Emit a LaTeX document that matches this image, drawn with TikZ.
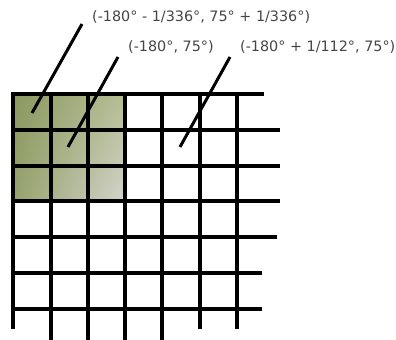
\documentclass[tikz,border=0pt]{standalone}
\usepackage{fontspec}
\setmainfont{DejaVu Sans}
\usetikzlibrary{shadings}
\definecolor{olivedark}{RGB}{138,152,96}
\definecolor{olivemid}{RGB}{150,162,108}
\definecolor{olivelight}{RGB}{182,190,148}
\definecolor{greylight}{RGB}{212,212,204}
\definecolor{labelgrey}{RGB}{70,70,70}
\begin{document}
\begin{tikzpicture}[x=1bp,y=-1bp,
  gridline/.style={line width=4bp,line cap=rect},
  leader/.style={line width=3bp},
  lbl/.style={anchor=west,inner sep=0pt,font=\fontsize{14.4}{16}\selectfont,text=labelgrey}]
\useasboundingbox[fill=white] (0,0) rectangle (396,340);
% shaded 3x3 block
\shade[upper left=olivedark,lower left=olivemid,upper right=olivelight,lower right=greylight]
  (13,94) rectangle (125,201);
% horizontal lines
\foreach \y/\xe in {94/262,130/278,166/278,201/278,237/275,273/260,309/260}
  \draw[gridline] (13,\y) -- (\xe,\y);
% vertical lines
\foreach \x/\ye in {13/327,51/340,88/340,125/340,162/340,200/327,237/327}
  \draw[gridline] (\x,94) -- (\x,\ye);
% labels
\node[lbl] (l1) at (92,17) {(-180° - 1/336°, 75° + 1/336°)};
\node[lbl] (l2) at (128,47) {(-180°, 75°)};
\node[lbl] (l3) at (240,47) {(-180° + 1/112°, 75°)};
% leader lines
\coordinate (s1) at (82,24);  \coordinate (e1) at (32,113);
\coordinate (s2) at (118,57); \coordinate (e2) at (68,147);
\coordinate (s3) at (230,57); \coordinate (e3) at (180,147);
\draw[leader] (s1) -- (e1);
\draw[leader] (s2) -- (e2);
\draw[leader] (s3) -- (e3);
\end{tikzpicture}
\end{document}
